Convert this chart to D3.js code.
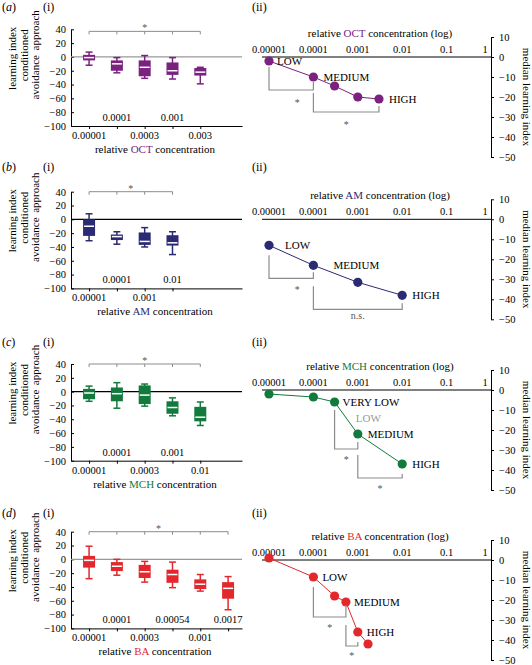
<!DOCTYPE html>
<html><head><meta charset="utf-8">
<script src="https://cdn.jsdelivr.net/npm/d3@7"></script>
<style>body{margin:0;background:#fff} svg{display:block}</style>
</head><body>
<svg id="chart" width="532" height="665"></svg>
<script>
// ---------- DATA ----------
const octConc = ["0.00001","0.0001","0.0003","0.001","0.003"];
const octMin  = [-12,-23,-31,-32,-39];
const octQ1   = [-5,-20,-28,-26,-27];
const octMed  = [-1,-10,-15,-20,-22];
const octQ3   = [3,-5,-5,-8,-16];
const octMax  = [7,-1,2,-1,-15];
const octMedian = [-2,-10,-14.5,-20,-21];

const amConc = ["0.00001","0.0001","0.001","0.01"];
const amMin  = [-31,-36,-40,-51];
const amQ1   = [-24,-30,-37,-38];
const amMed  = [-10,-25,-32,-34];
const amQ3   = [0,-22,-19,-23];
const amMax  = [8,-18,-12,-18];
const amMedian = [-13,-23,-31.5,-38];

const mchConc = ["0.00001","0.0001","0.0003","0.001","0.01"];
const mchMin  = [-14,-24,-21,-35,-49];
const mchQ1   = [-11,-14,-18,-32,-43];
const mchMed  = [-2,-3,-5,-23,-37];
const mchQ3   = [4,6,9,-14,-22];
const mchMax  = [8,13,11,-9,-15];
const mchMedian = [-2,-3.5,-6,-22,-37];

const baConc = ["0.00001","0.0001","0.0003","0.00054","0.001","0.0017"];
const baMin  = [-28,-23,-33,-41,-46,-73];
const baQ1   = [-12,-17,-27,-34,-43,-57];
const baMed  = [-1.5,-10,-18,-22,-36,-42];
const baQ3   = [5,-4,-8,-15,-29,-33];
const baMax  = [19,0,-3,-4,-22,-25];
const baMedian = [1,-8.5,-18,-21,-36,-42];

const yTicksI  = [40,20,0,-20,-40,-60,-80,-100];
const yTicksII = [10,0,-10,-20,-30,-40,-50];
const logTicks = [0.00001,0.0001,0.001,0.01,0.1,1];
const logTickLabels = ["0.00001","0.0001","0.001","0.01","0.1","1"];

// ---------- PANEL CONFIG ----------
const panels = [
  {letter:"a", odor:"OCT", color:"#7b2180", conc:octConc, mn:octMin, q1:octQ1, md:octMed, q3:octQ3, mx:octMax, med:octMedian,
   top:29.3, y0:57, labelY:11, zero:"#999", brI:37,
   levels:[{t:"LOW",i:0,dx:8},{t:"MEDIUM",i:1,dx:10},{t:"HIGH",i:4,dx:10}],
   brackets:[{a:0,b:1,lt:-5,rt:-12.5,bot:-16.5,txt:"*",ty:-21.5,dx:6},{a:1,b:4,lt:-18,rt:-24.5,bot:-27.5,txt:"*",ty:-32.5,dx:0}]},
  {letter:"b", odor:"AM", color:"#2b2a74", conc:amConc, mn:amMin, q1:amQ1, md:amMed, q3:amQ3, mx:amMax, med:amMedian,
   top:191.7, y0:219.3, labelY:171, zero:"#000", brI:40,
   levels:[{t:"LOW",i:0,dx:16},{t:"MEDIUM",i:1,dx:20},{t:"HIGH",i:3,dx:10}],
   brackets:[{a:0,b:1,lt:-18,rt:-26.5,bot:-29.5,txt:"*",ty:-34,dx:6},{a:1,b:3,lt:-33.5,rt:-42,bot:-45,txt:"n.s.",ty:-48,dx:0}]},
  {letter:"c", odor:"MCH", color:"#127a3d", conc:mchConc, mn:mchMin, q1:mchQ1, md:mchMed, q3:mchQ3, mx:mchMax, med:mchMedian,
   top:364, y0:390, labelY:346, zero:"#000", brI:40,
   levels:[{t:"VERY LOW",i:2,dx:8},{t:"LOW",i:3,dx:-2,dy:-16,gray:true},{t:"MEDIUM",i:3,dx:10},{t:"HIGH",i:4,dx:10}],
   brackets:[{a:2,b:3,lt:-10,rt:-26,bot:-29.5,txt:"*",ty:-33.5,dx:0},{a:3,b:4,lt:-32.5,rt:-42,bot:-44,txt:"*",ty:-48,dx:0}]},
  {letter:"d", odor:"BA", color:"#e3282d", conc:baConc, mn:baMin, q1:baQ1, md:baMed, q3:baQ3, mx:baMax, med:baMedian,
   top:531.7, y0:560, labelY:517, zero:"#999", brI:40,
   levels:[{t:"LOW",i:1,dx:9},{t:"MEDIUM",i:3,dx:8},{t:"HIGH",i:4,dx:9}],
   brackets:[{a:1,b:3,lt:-13.5,rt:-22.5,bot:-28.5,txt:"*",ty:-32.5,dx:0},{a:3,b:4,lt:-32.5,rt:-41,bot:-43,txt:"*",ty:-46.5,dx:0}]}
];

// ---------- DRAW ----------
const FONT = "'Liberation Serif','Times New Roman',serif";
const svg = d3.select("#chart").style("font-family", FONT);
const GRAY = "#8c8c8c";

panels.forEach(p => {
  // panel labels
  const lab = svg.append("text").attr("x",2).attr("y",p.labelY).attr("font-size",12);
  lab.append("tspan").text("(");
  lab.append("tspan").attr("font-style","italic").text(p.letter);
  lab.append("tspan").text(")");
  svg.append("text").attr("x",43).attr("y",p.labelY).attr("font-size",12).text("(i)");
  svg.append("text").attr("x",252).attr("y",p.labelY).attr("font-size",12).text("(ii)");

  // ===== (i) box plot =====
  const n = p.conc.length;
  const x = d3.scaleLinear().domain([-0.65,5.5]).range([71,242]);
  const y = d3.scaleLinear().domain([-100,40]).range([p.top+96.7, p.top]);
  const g = svg.append("g");

  // y axis title
  const yt = [{t:"learning index",cx:12,cy:p.top+29},{t:"conditioned",cx:24,cy:p.top+26},
              {t:"approach",cx:35,cy:p.top+1},{t:"avoidance",cx:35,cy:p.top+48}];
  yt.forEach(d => {
    g.append("text").attr("transform",`translate(${d.cx},${d.cy}) rotate(-90)`)
      .attr("text-anchor","middle").attr("dy","0.35em").attr("font-size",11).text(d.t);
  });

  const ya = g.append("g").attr("transform","translate(71,0)")
    .call(d3.axisLeft(y).tickValues(yTicksI).tickSizeInner(-3).tickSizeOuter(0).tickPadding(5));
  ya.selectAll("text").attr("font-size",10.5).attr("font-family",FONT);
  const xa = g.append("g").attr("transform",`translate(0,${y(-100)})`)
    .call(d3.axisBottom(x).tickValues(d3.range(n)).tickSize(3).tickSizeOuter(0).tickFormat(""));
  [ya,xa].forEach(a => a.selectAll("path,line").attr("stroke","#000"));

  // alternating tick labels
  p.conc.forEach((c,i) => {
    g.append("text").attr("x",x(i)).attr("y", i%2===0 ? y(-100)+13 : y(-100)-5)
      .attr("text-anchor","middle").attr("font-size",10.5).text(c);
  });
  // axis title
  const xt = g.append("text").attr("x",155).attr("y",y(-100)+27).attr("text-anchor","middle").attr("font-size",11);
  xt.append("tspan").text("relative ");
  xt.append("tspan").attr("fill",p.color).text(p.odor);
  xt.append("tspan").text(" concentration");

  // zero line
  g.append("line").attr("x1",71).attr("x2",242).attr("y1",y(0)).attr("y2",y(0))
    .attr("stroke",p.zero).attr("stroke-width",1.2);

  // boxes
  const bw = 12, cw = 7;
  d3.range(n).forEach(i => {
    const cx = x(i);
    g.append("line").attr("x1",cx).attr("x2",cx).attr("y1",y(p.mn[i])).attr("y2",y(p.mx[i]))
      .attr("stroke",p.color).attr("stroke-width",1.5);
    [p.mn[i],p.mx[i]].forEach(v => g.append("line").attr("x1",cx-cw/2).attr("x2",cx+cw/2)
      .attr("y1",y(v)).attr("y2",y(v)).attr("stroke",p.color).attr("stroke-width",1.5));
    g.append("rect").attr("x",cx-bw/2).attr("width",bw).attr("y",y(p.q3[i]))
      .attr("height",y(p.q1[i])-y(p.q3[i])).attr("fill",p.color);
    g.append("line").attr("x1",cx-bw/2+1).attr("x2",cx+bw/2-1).attr("y1",y(p.md[i])).attr("y2",y(p.md[i]))
      .attr("stroke","#fff").attr("stroke-width",1.5);
  });

  // significance bracket
  const by = y(p.brI);
  g.append("line").attr("x1",x(0)).attr("x2",x(n-1)).attr("y1",by).attr("y2",by).attr("stroke",GRAY);
  d3.range(n).forEach(i => g.append("line").attr("x1",x(i)).attr("x2",x(i)).attr("y1",by).attr("y2",by+3).attr("stroke",GRAY));
  g.append("text").attr("x",(x(0)+x(n-1))/2).attr("y",by).attr("text-anchor","middle")
    .attr("font-size",10).attr("fill","#555").text("*");

  // ===== (ii) median vs log concentration =====
  const xl = d3.scaleLog().domain([1e-5,1]).range([269,491]);
  const yl = d3.scaleLinear().domain([-50,10]).range([p.y0+100, p.y0-20]);
  const h = svg.append("g");

  h.append("line").attr("x1",262).attr("x2",491).attr("y1",yl(0)).attr("y2",yl(0)).attr("stroke","#000");
  logTicks.forEach((v,i) => {
    h.append("text").attr("x",xl(v) + (i===logTicks.length-1 ? -6 : 0)).attr("y",yl(0)-4)
      .attr("text-anchor","middle").attr("font-size",10.5).text(logTickLabels[i]);
  });
  const t2 = h.append("text").attr("x",380).attr("y",p.y0-20).attr("text-anchor","middle").attr("font-size",11);
  t2.append("tspan").text("relative ");
  t2.append("tspan").attr("fill",p.color).text(p.odor);
  t2.append("tspan").text(" concentration (log)");

  const ra = h.append("g").attr("transform","translate(491,0)")
    .call(d3.axisRight(yl).tickValues(yTicksII).tickSize(3).tickSizeOuter(0).tickPadding(5));
  ra.selectAll("text").attr("font-size",10.5).attr("font-family",FONT);
  ra.selectAll("path,line").attr("stroke","#000");
  h.append("text").attr("transform",`translate(527,${p.y0+40}) rotate(90)`)
    .attr("text-anchor","middle").attr("dy","0.35em").attr("font-size",11).text("median learning index");

  const pts = p.conc.map((c,i) => [xl(+c), yl(p.med[i])]);
  h.append("path").attr("d",d3.line()(pts)).attr("fill","none").attr("stroke",p.color).attr("stroke-width",1);
  pts.forEach(pt => h.append("circle").attr("cx",pt[0]).attr("cy",pt[1]).attr("r",4.6).attr("fill",p.color));

  p.levels.forEach(l => {
    h.append("text").attr("x",pts[l.i][0]+l.dx).attr("y",pts[l.i][1]+(l.dy||0)).attr("dy","0.35em")
      .attr("font-size",11).attr("fill",l.gray ? "#999" : "#000").text(l.t);
  });

  p.brackets.forEach(b => {
    const xa_ = pts[b.a][0], xb_ = pts[b.b][0];
    h.append("path").attr("d",`M${xa_},${yl(b.lt)}V${yl(b.bot)}H${xb_}V${yl(b.rt)}`)
      .attr("fill","none").attr("stroke",GRAY).attr("stroke-width",1.2);
    h.append("text").attr("x",(xa_+xb_)/2 + b.dx).attr("y",yl(b.ty) + (b.txt==="*"?5.5:3.5))
      .attr("text-anchor","middle").attr("font-size",10).attr("fill","#555").text(b.txt);
  });
});
</script>
</body></html>
